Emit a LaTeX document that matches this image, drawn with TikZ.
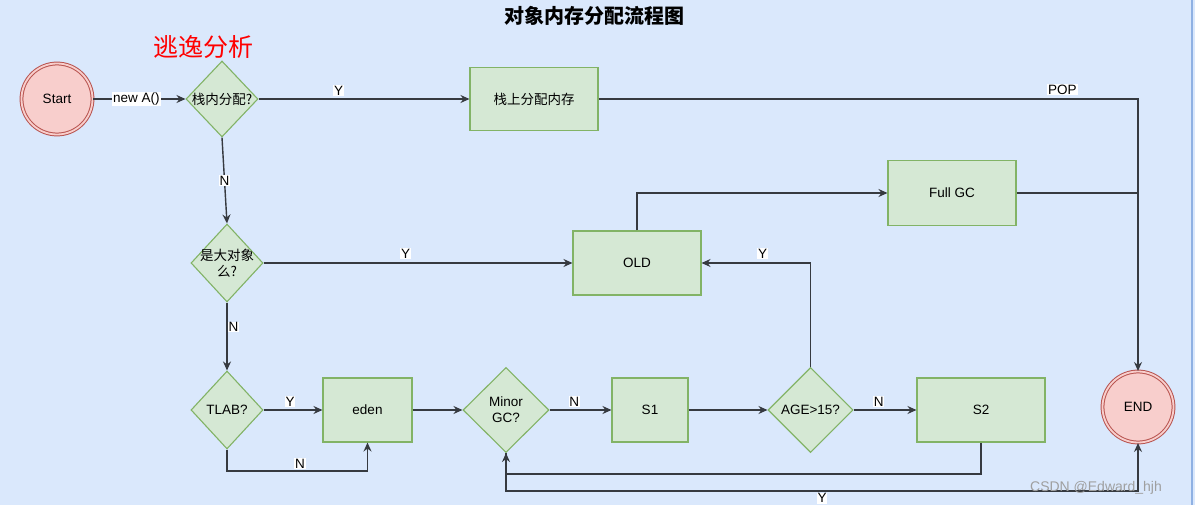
\documentclass[tikz,border=0pt]{standalone}
\usepackage{fontspec}
\setmainfont{Liberation Sans}
\newfontfamily\cjk{Noto Sans CJK SC}
\usetikzlibrary{shapes.geometric,arrows.meta}
\definecolor{bgc}{HTML}{DAE8FC}
\definecolor{bgline}{HTML}{8FB1E3}
\definecolor{gF}{HTML}{D5E8D4}
\definecolor{gS}{HTML}{82B366}
\definecolor{rF}{HTML}{F8CECC}
\definecolor{rS}{HTML}{B85450}
\definecolor{edgec}{HTML}{363A40}
\begin{document}
\begin{tikzpicture}[x=1pt,y=-1pt,
  txt/.style={font=\fontsize{13.5}{16}\selectfont, text=black},
  boxn/.style={draw=gS, fill=gF, line width=1.1pt, rectangle, inner sep=0pt, txt},
  dia/.style={draw=gS, fill=gF, line width=1.1pt, diamond, inner sep=0pt},
  term/.style={draw=rS, fill=rF, double=rF, double distance=1.8pt, line width=1pt, circle, minimum size=71pt, inner sep=0pt, txt},
  lbl/.style={fill=white, inner sep=0.8pt, txt},
  conn/.style={draw=edgec, line width=1.4pt, -{Stealth[length=9pt,width=8pt,inset=3pt]}},
  plain/.style={draw=edgec, line width=1.4pt}
]
\useasboundingbox (0,0) rectangle (1195,505);
\fill[bgc] (0,0) rectangle (1195,505);
\draw[bgline, line width=2pt] (1192,0) -- (1192,505);

% title and annotation
\node[font=\cjk\bfseries\fontsize{20}{22}\selectfont] (title) at (594,16) {对象内存分配流程图};
\node[font=\cjk\fontsize{25}{27}\selectfont, text=red] (esc) at (203,47) {逃逸分析};

% nodes
\node[term] (start) at (57,99) {Start};
\node[dia, minimum width=72pt, minimum height=76pt, label={[txt,font=\cjk\fontsize{13.5}{16}\selectfont]center:栈内分配?}] (d1) at (222,99) {};
\node[boxn, minimum width=128pt, minimum height=63pt, font=\cjk\fontsize{13.5}{16}\selectfont] (stack) at (534,99) {栈上分配内存};
\node[dia, minimum width=72pt, minimum height=78pt, label={[txt,font=\cjk\fontsize{13.5}{16}\selectfont, align=center]center:是大对象\\么?}] (d2) at (227,263) {};
\node[boxn, minimum width=128pt, minimum height=64pt] (old) at (637,263) {OLD};
\node[boxn, minimum width=128pt, minimum height=65pt] (full) at (952,193) {Full GC};
\node[dia, minimum width=72pt, minimum height=78pt, label={[txt]center:TLAB?}] (d3) at (227,410) {};
\node[boxn, minimum width=89pt, minimum height=64pt] (eden) at (367.5,410) {eden};
\node[dia, minimum width=86pt, minimum height=85pt, label={[txt, align=center]center:Minor\\GC?}] (d4) at (506,410) {};
\node[boxn, minimum width=76pt, minimum height=64pt] (s1) at (650,410) {S1};
\node[dia, minimum width=85pt, minimum height=85pt, label={[txt]center:AGE>15?}] (d5) at (810.5,410) {};
\node[boxn, minimum width=128pt, minimum height=64pt] (s2) at (981,410) {S2};
\node[term] (end) at (1138,407) {END};

\coordinate (m1) at (506,474);
\coordinate (m2) at (506,491);
\coordinate (t1) at (227,471);

% connectors
\draw[conn] (start) -- (d1.west) node[lbl, pos=0.47] {new A()};
\draw[conn] (d1.east) -- (stack.west) node[lbl, pos=0.38, above=2pt] {Y};
\draw[conn] (stack.east) -| (end.north) node[lbl, pos=0.43, above=3pt] {POP};
\draw[conn] (d1.south) -- (d2.north) node[lbl, pos=0.5] {N};
\draw[conn] (d2.east) -- (old.west) node[lbl, pos=0.46, above=3pt] {Y};
\draw[conn] (old.north) |- (full.west);
\draw[plain] (full.east) -- (full.east -| end.north);
\draw[conn] (d2.south) -- (d3.north) node[lbl, pos=0.36, right=0pt] {N};
\draw[conn] (d3.east) -- (eden.west) node[lbl, pos=0.45, above=2pt] {Y};
\draw[conn] (d3.south) -- (t1) -| (eden.south) node[lbl, pos=0.26, above=1pt] {N};
\draw[conn] (eden.east) -- (d4.west);
\draw[conn] (d4.east) -- (s1.west) node[lbl, pos=0.4, above=2pt] {N};
\draw[conn] (s1.east) -- (d5.west);
\draw[conn] (d5.north) |- (old.east) node[lbl, pos=0.72, above=3pt] {Y};
\draw[conn] (d5.east) -- (s2.west) node[lbl, pos=0.4, above=2pt] {N};
\draw[conn] (s2.south) |- (m1) -- (d4.south);
\draw[conn] (d4.south) -- (m2) -| (end.south) node[lbl, pos=0.25, below=1pt] {Y};

% watermark
\node[font=\fontsize{14}{16}\selectfont, text=gray!75] (wm) at (1096,488) {CSDN @Edward\_hjh};
\end{tikzpicture}
\end{document}
